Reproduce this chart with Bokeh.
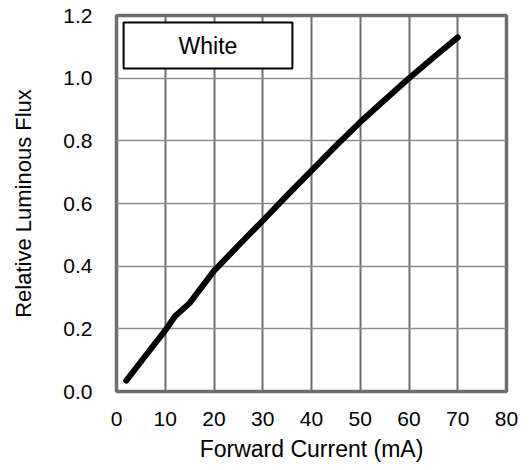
from bokeh.plotting import figure
from bokeh.models import Range1d, FixedTicker, PrintfTickFormatter, Label
from bokeh.embed import file_html
from bokeh.resources import INLINE

# Data
current_ma = [2, 5, 8, 10, 12, 15, 20, 25, 30, 35, 40, 45, 50, 55, 60, 65, 70]
rel_flux = [0.035, 0.095, 0.155, 0.195, 0.24, 0.282, 0.385, 0.466, 0.545, 0.626, 0.705, 0.784, 0.86, 0.93, 1.0, 1.066, 1.13]
x_ticks = [0, 10, 20, 30, 40, 50, 60, 70, 80]
y_ticks = [0.0, 0.2, 0.4, 0.6, 0.8, 1.0, 1.2]
series_name = "White"
x_title = "Forward Current (mA)"
y_title = "Relative Luminous Flux"

FONT = "Liberation Sans"

p = figure(width=532, height=470, output_backend="svg", toolbar_location=None,
           x_range=Range1d(0, 80), y_range=Range1d(0, 1.2),
           min_border_left=116, min_border_right=26, min_border_top=15, min_border_bottom=79)
p.background_fill_color = "white"
p.border_fill_color = "white"
p.outline_line_color = "#6e6e6e"
p.outline_line_width = 3.5

p.xaxis.ticker = FixedTicker(ticks=x_ticks)
p.yaxis.ticker = FixedTicker(ticks=y_ticks)
p.yaxis.formatter = PrintfTickFormatter(format="%.1f")

for ax in (p.xaxis, p.yaxis):
    ax.axis_line_color = None
    ax.major_tick_line_color = None
    ax.minor_tick_line_color = None
    ax.major_tick_out = 0
    ax.major_tick_in = 0
    ax.minor_tick_out = 0
    ax.minor_tick_in = 0
    ax.major_label_text_font = FONT
    ax.major_label_text_font_size = "21px"
    ax.major_label_text_color = "black"
    ax.axis_label_text_font = FONT
    ax.axis_label_text_font_style = "normal"
    ax.axis_label_text_color = "black"

p.xaxis.axis_label = x_title
p.yaxis.axis_label = y_title
p.xaxis.axis_label_text_font_size = "23px"
p.yaxis.axis_label_text_font_size = "22px"
p.xaxis.major_label_standoff = 20
p.xaxis.axis_label_standoff = 7
p.yaxis.major_label_standoff = 24
p.yaxis.axis_label_standoff = 24

p.xgrid.grid_line_color = "#6e6e6e"
p.xgrid.grid_line_width = 2
p.ygrid.grid_line_color = "#8e8e8e"
p.ygrid.grid_line_width = 1.6

p.line(current_ma, rel_flux, line_color="black", line_width=6, line_cap="round", line_join="round")

# series name box
lab = Label(x=18.77, y=1.104, text=series_name, text_align="center", text_baseline="middle",
            text_font=FONT, text_font_size="23px", text_color="black",
            background_fill_color="white", border_line_color="black", border_line_width=2,
            padding=(55, 10))
p.add_layout(lab)

open("out.html", "w").write(file_html(p, INLINE))
